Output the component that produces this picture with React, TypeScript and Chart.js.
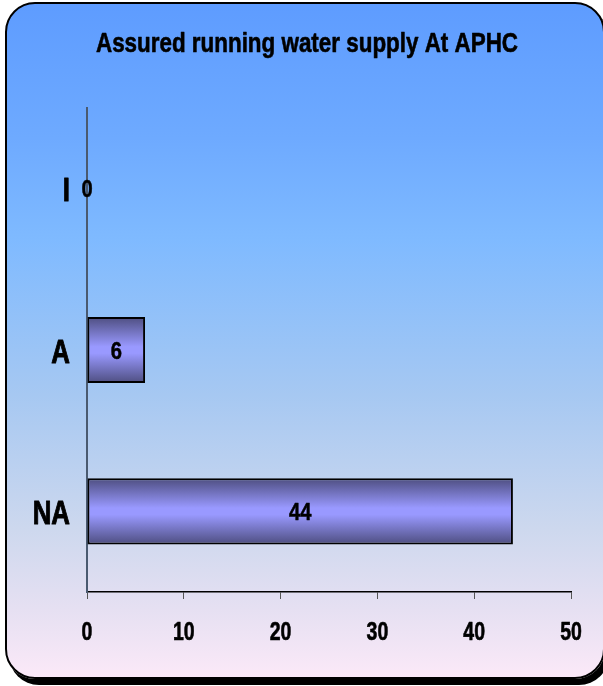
import React, { useEffect, useRef } from "react";
import { Chart, registerables } from "chart.js";

Chart.register(...registerables);

const TITLE = "Assured running water supply At APHC";
const categories = ["I", "A", "NA"];
const values = [0, 6, 44];
const xMin = 0;
const xMax = 50;
const xStep = 10;

const FONT = "'Liberation Sans', Arial, sans-serif";

// Bold text squeezed horizontally to give a narrow, heavy face
function drawNarrow(
  ctx: CanvasRenderingContext2D,
  text: string,
  x: number,
  baseline: number,
  size: number,
  sx: number,
  align: CanvasTextAlign,
  weight = 0.7
) {
  ctx.save();
  ctx.translate(x, baseline);
  ctx.scale(sx, 1);
  ctx.font = `bold ${size}px ${FONT}`;
  ctx.fillStyle = "#000";
  ctx.strokeStyle = "#000";
  ctx.lineWidth = weight;
  ctx.lineJoin = "round";
  ctx.textAlign = align;
  ctx.textBaseline = "alphabetic";
  ctx.fillText(text, 0, 0);
  if (weight > 0) ctx.strokeText(text, 0, 0);
  ctx.restore();
}

// Shaded fill across each bar's thickness
function barFill(ctx: any) {
  const chart = ctx.chart;
  const yScale = chart.scales?.y;
  const area = chart.chartArea;
  if (!yScale || !area) return "#9999ff";
  const band = (area.bottom - area.top) / categories.length;
  const thick = band * 0.41;
  const cy = yScale.getPixelForValue(ctx.dataIndex);
  const g = chart.ctx.createLinearGradient(0, cy - thick / 2, 0, cy + thick / 2);
  g.addColorStop(0, "#4e4e80");
  g.addColorStop(0.45, "#9999ff");
  g.addColorStop(0.55, "#9999ff");
  g.addColorStop(1, "#4e4e80");
  return g;
}

const textLayer = {
  id: "textLayer",
  afterDraw(chart: any) {
    const { ctx } = chart;
    const xs = chart.scales.x;
    const ys = chart.scales.y;

    // title
    drawNarrow(ctx, TITLE, 307, 52, 27, 0.83, "center", 0.6);

    // x tick labels
    for (let v = xMin; v <= xMax; v += xStep) {
      drawNarrow(ctx, String(v), xs.getPixelForValue(v), 640, 25, 0.78, "center", 0.6);
    }

    // category labels
    categories.forEach((c, i) => {
      drawNarrow(ctx, c, ys.left + ys.width - 17, ys.getPixelForValue(i) + 12.5, 34, 0.76, "right", 1);
    });

    // value labels at the middle of each bar
    const meta = chart.getDatasetMeta(0);
    meta.data.forEach((bar: any, i: number) => {
      const cx = (bar.x + bar.base) / 2;
      drawNarrow(ctx, String(values[i]), cx, bar.y + 8.5, 24, 0.84, "center", 0.5);
    });
  },
};

export default function App() {
  const ref = useRef<HTMLCanvasElement | null>(null);

  useEffect(() => {
    if (!ref.current) return;
    const chart = new Chart(ref.current, {
      type: "bar",
      data: {
        labels: categories,
        datasets: [
          {
            data: values,
            backgroundColor: barFill,
            borderColor: "#000",
            borderWidth: 2,
            borderSkipped: false,
            categoryPercentage: 0.41,
            barPercentage: 1,
          },
        ],
      },
      options: {
        indexAxis: "y",
        responsive: false,
        animation: false,
        layout: { padding: { left: 0, right: 32, top: 108, bottom: 0 } },
        plugins: {
          legend: { display: false },
          tooltip: { enabled: false },
          title: { display: false },
        },
        scales: {
          x: {
            type: "linear",
            min: xMin,
            max: xMax,
            ticks: {
              stepSize: xStep,
              color: "rgba(0,0,0,0)",
              font: { family: FONT, size: 20, weight: "bold" },
              padding: 18,
              maxRotation: 0,
            },
            grid: {
              drawOnChartArea: false,
              drawTicks: true,
              tickLength: 7,
              color: "#555",
            },
            border: { display: true, color: "#000", width: 1.5 },
            afterFit(scale: any) {
              scale.height = 94;
            },
          },
          y: {
            type: "category",
            ticks: {
              color: "rgba(0,0,0,0)",
              font: { family: FONT, size: 20, weight: "bold" },
              padding: 17,
            },
            grid: { display: false, drawTicks: false },
            border: { display: true, color: "#4a5a70", width: 2 },
            afterFit(scale: any) {
              scale.width = 87;
            },
          },
        },
      },
      plugins: [textLayer],
    });
    return () => chart.destroy();
  }, []);

  return (
    <div style={{ position: "fixed", left: 0, top: 0, width: 603, height: 686, overflow: "hidden" }}>
      <div
        style={{
          position: "absolute",
          left: 5,
          top: 2,
          width: 596,
          height: 673,
          border: "2px solid #000",
          borderRadius: 30,
          boxShadow: "4px 6px 0 #000",
          background:
            "linear-gradient(to bottom, #5e9cff 0%, #6eaaff 20%, #7fbaff 35%, #a6c8f2 58%, #cdd8ee 78%, #e6e0f2 90%, #fbe9f8 100%)",
        }}
      />
      <canvas ref={ref} width={603} height={686} style={{ position: "absolute", left: 0, top: 0 }} />
    </div>
  );
}
